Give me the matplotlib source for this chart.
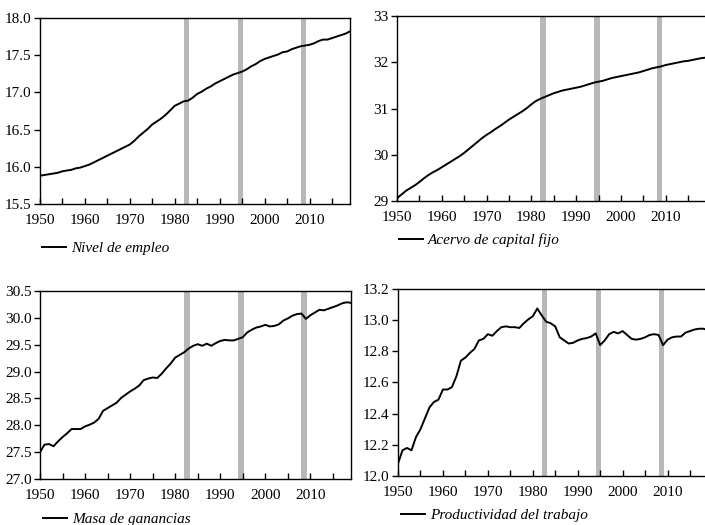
import matplotlib
matplotlib.use("Agg")
import matplotlib.pyplot as plt
from matplotlib.ticker import MultipleLocator, FormatStrFormatter
from matplotlib.lines import Line2D

plt.rcParams['font.family'] = ['Liberation Serif', 'DejaVu Serif']

years = list(range(1950, 2020))

empleo = [15.88, 15.89, 15.90, 15.91, 15.92, 15.94, 15.95, 15.96, 15.98, 15.99,
          16.01, 16.03, 16.06, 16.09, 16.12, 16.15, 16.18, 16.21, 16.24, 16.27,
          16.30, 16.35, 16.41, 16.46, 16.51, 16.57, 16.61, 16.65, 16.70, 16.76,
          16.82, 16.85, 16.88, 16.89, 16.93, 16.98, 17.01, 17.05, 17.08, 17.12,
          17.15, 17.18, 17.21, 17.24, 17.26, 17.28, 17.31, 17.35, 17.38, 17.42,
          17.45, 17.47, 17.49, 17.51, 17.54, 17.55, 17.58, 17.60, 17.62, 17.63,
          17.64, 17.66, 17.69, 17.71, 17.71, 17.73, 17.75, 17.77, 17.79, 17.82]

capital = [29.06, 29.14, 29.22, 29.28, 29.34, 29.41, 29.49, 29.56, 29.62, 29.67,
           29.73, 29.79, 29.85, 29.91, 29.97, 30.04, 30.12, 30.20, 30.28, 30.36,
           30.43, 30.49, 30.56, 30.62, 30.69, 30.76, 30.82, 30.88, 30.94, 31.01,
           31.09, 31.16, 31.21, 31.25, 31.29, 31.33, 31.36, 31.39, 31.41, 31.43,
           31.45, 31.47, 31.50, 31.53, 31.56, 31.58, 31.60, 31.63, 31.66, 31.68,
           31.70, 31.72, 31.74, 31.76, 31.78, 31.81, 31.84, 31.87, 31.89, 31.91,
           31.94, 31.96, 31.98, 32.00, 32.02, 32.03, 32.05, 32.07, 32.09, 32.10]

ganancias = [27.50, 27.64, 27.65, 27.61, 27.70, 27.78, 27.85, 27.93, 27.93, 27.93,
             27.98, 28.01, 28.05, 28.12, 28.27, 28.32, 28.37, 28.42, 28.51, 28.57,
             28.63, 28.68, 28.74, 28.84, 28.87, 28.89, 28.88, 28.96, 29.06, 29.15,
             29.26, 29.31, 29.36, 29.43, 29.48, 29.51, 29.48, 29.52, 29.48, 29.53,
             29.57, 29.59, 29.58, 29.58, 29.61, 29.64, 29.73, 29.78, 29.82, 29.84,
             29.87, 29.84, 29.85, 29.88, 29.95, 29.99, 30.04, 30.07, 30.08, 29.98,
             30.05, 30.10, 30.15, 30.14, 30.17, 30.20, 30.23, 30.27, 30.29, 30.28]

productividad = [12.08, 12.165, 12.18, 12.165, 12.25, 12.30, 12.37, 12.44, 12.475, 12.49,
                 12.555, 12.555, 12.57, 12.64, 12.74, 12.76, 12.79, 12.815, 12.87, 12.88,
                 12.91, 12.90, 12.93, 12.955, 12.96, 12.955, 12.955, 12.95, 12.98, 13.005,
                 13.025, 13.075, 13.03, 12.99, 12.98, 12.96, 12.89, 12.87, 12.85, 12.855,
                 12.87, 12.88, 12.885, 12.895, 12.915, 12.84, 12.87, 12.91, 12.925, 12.915,
                 12.93, 12.905, 12.88, 12.875, 12.88, 12.89, 12.905, 12.91, 12.905, 12.84,
                 12.875, 12.89, 12.895, 12.895, 12.92, 12.93, 12.94, 12.945, 12.945, 12.935]

recesiones = [(1982, 1983), (1994, 1995), (2008, 2009)]

series = [
    (empleo, "Nivel de empleo", (15.5, 18.0), 0.5, "%.1f"),
    (capital, "Acervo de capital fijo", (29, 33), 1, "%d"),
    (ganancias, "Masa de ganancias", (27.0, 30.5), 0.5, "%.1f"),
    (productividad, "Productividad del trabajo", (12.0, 13.2), 0.2, "%.1f"),
]

W, H = 705, 525
# axes boxes in pixels: left, top, right, bottom
boxes = [(40, 18, 350, 204), (397, 16, 706, 201),
         (40, 291, 351, 479), (398, 289, 708, 476)]
# legend anchor (left x, center y) in pixels
leg_pos = [(42, 248), (399, 240), (43, 519), (401, 515)]

fig = plt.figure(figsize=(W / 100, H / 100), dpi=100)
bar_color = "#b5b9b9"

for (vals, label, ylim, step, fmt), (l, t, r, b), (lx, ly) in zip(series, boxes, leg_pos):
    ax = fig.add_axes([l / W, 1 - b / H, (r - l) / W, (b - t) / H])
    for a, z in recesiones:
        ax.axvspan(a, z + 0.25, color=bar_color, lw=0, zorder=1)
    ax.plot(years, vals, color="black", lw=1.4, zorder=3)
    ax.set_xlim(1950, 2019)
    ax.set_ylim(*ylim)
    ax.xaxis.set_major_locator(MultipleLocator(10))
    ax.xaxis.set_minor_locator(MultipleLocator(5))
    ax.yaxis.set_major_locator(MultipleLocator(step))
    ax.yaxis.set_major_formatter(FormatStrFormatter(fmt))
    ax.tick_params(axis="x", which="both", direction="in", length=4, width=1,
                   labelsize=11, pad=7.5)
    ax.tick_params(axis="y", which="both", direction="out", length=4, width=1,
                   labelsize=11, pad=2)
    for s in ax.spines.values():
        s.set_linewidth(1.0)
    handle = Line2D([], [], color="black", lw=1.4)
    ax.legend([handle], [label], loc="center left",
              bbox_to_anchor=(lx / W, 1 - ly / H), bbox_transform=fig.transFigure,
              frameon=False, prop={"style": "italic", "size": 11},
              handlelength=1.6, handletextpad=0.3, borderpad=0, borderaxespad=0)

fig.savefig("out.png", dpi=100)
